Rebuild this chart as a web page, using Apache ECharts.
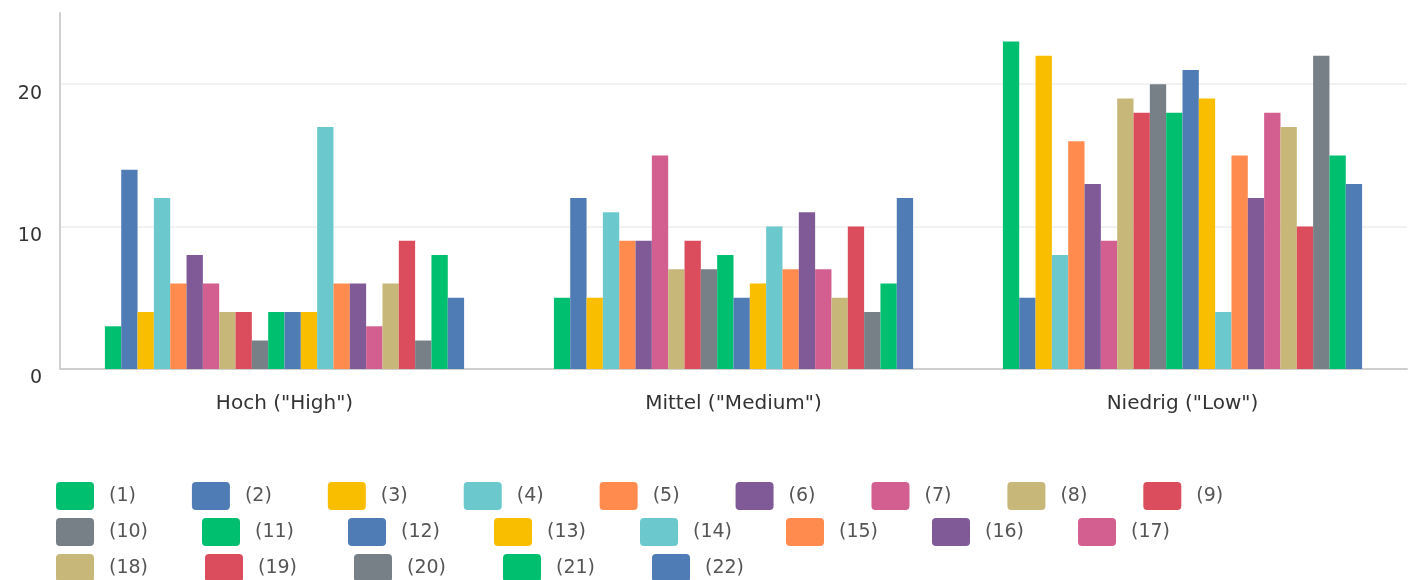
<!DOCTYPE html>
<html>
<head>
<meta charset="utf-8">
<script src="https://cdn.jsdelivr.net/npm/echarts@6/dist/echarts.min.js"></script>
<style>
html,body{margin:0;padding:0;background:#fff;}
#chart{width:1414px;height:580px;}
</style>
</head>
<body>
<div id="chart"></div>
<script>
const categories = ['Hoch ("High")', 'Mittel ("Medium")', 'Niedrig ("Low")'];
const seriesNames = ['(1)','(2)','(3)','(4)','(5)','(6)','(7)','(8)','(9)','(10)','(11)','(12)','(13)','(14)','(15)','(16)','(17)','(18)','(19)','(20)','(21)','(22)'];
const hochValues    = [3,14,4,12,6,8,6,4,4,2,4,4,4,17,6,6,3,6,9,2,8,5];
const mittelValues  = [5,12,5,11,9,9,15,7,9,7,8,5,6,10,7,11,7,5,10,4,6,12];
const niedrigValues = [23,5,22,8,16,13,9,19,18,20,18,21,19,4,15,12,18,17,10,22,15,13];
const palette = ['#00BF6F','#507CB6','#F9BE00','#6BC8CD','#FF8B4F','#7F5A96','#D25F90','#C7B879','#DB4D5C','#768086'];
const yTicks = [0, 10, 20];

const chart = echarts.init(document.getElementById('chart'));
const font = 'DejaVu Sans';
const legendIcon = 'path://M4,0 H34 Q38,0 38,4 V24 Q38,28 34,28 H4 Q0,28 0,24 V4 Q0,0 4,0 Z';

const series = seriesNames.map((name, i) => ({
  name: name,
  type: 'bar',
  data: [hochValues[i], mittelValues[i], niedrigValues[i]],
  itemStyle: { color: palette[i % palette.length] },
  barGap: '0%',
  barCategoryGap: '20%'
}));

function legendRow(names, top, gap) {
  return {
    data: names,
    left: 56,
    top: top,
    orient: 'horizontal',
    itemWidth: 38,
    itemHeight: 28,
    itemGap: gap,
    icon: legendIcon,
    padding: 0,
    textStyle: { fontFamily: font, fontSize: 19, color: '#555', padding: [0, 0, 0, 10] },
    selectedMode: false
  };
}

chart.setOption({
  animation: false,
  color: palette,
  grid: { left: 60, right: 7, top: 13, bottom: 211, containLabel: false },
  legend: [
    legendRow(seriesNames.slice(0, 9), 482, 56),
    legendRow(seriesNames.slice(9, 17), 518, 54),
    legendRow(seriesNames.slice(17), 554, 57)
  ],
  xAxis: {
    type: 'category',
    data: categories,
    axisLine: { show: true, lineStyle: { color: '#cfcfcf', width: 2 } },
    axisTick: { show: false },
    axisLabel: { fontFamily: font, fontSize: 20, color: '#333', margin: 25 }
  },
  yAxis: {
    type: 'value',
    min: 0,
    max: 25,
    interval: 10,
    axisLine: { show: true, lineStyle: { color: '#cfcfcf', width: 2 } },
    axisTick: { show: false },
    splitLine: { show: true, showMaxLine: false, lineStyle: { color: '#eeeeee', width: 1.5 } },
    axisLabel: {
      fontFamily: font, fontSize: 19, color: '#333', margin: 18,
      verticalAlign: 'top',
      showMaxLabel: false,
      formatter: v => (yTicks.indexOf(v) >= 0 ? String(v) : '')
    }
  },
  series: series
});
</script>
</body>
</html>
